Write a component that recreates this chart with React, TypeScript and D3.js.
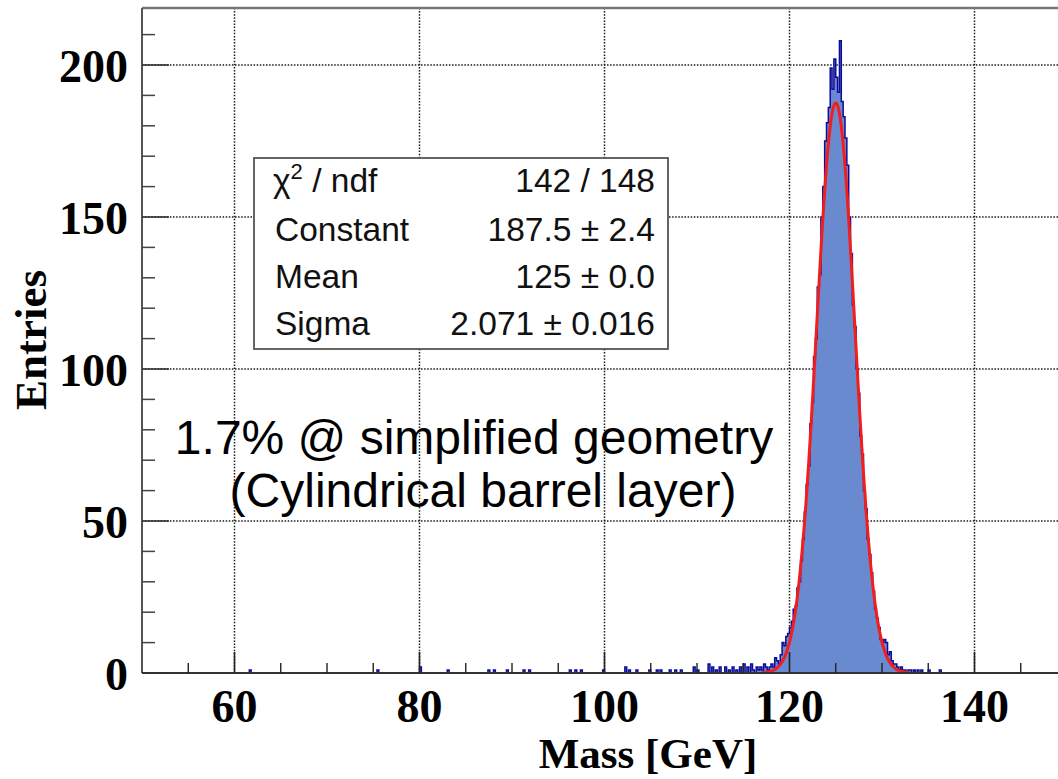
import React from "react";
import * as d3 from "d3";

// ---- data ----
const X_DOMAIN = [50, 150];
const Y_DOMAIN = [0, 218.75];
const BIN_WIDTH = 0.2;
const X_MAJOR_TICKS = [60, 80, 100, 120, 140];
const Y_MAJOR_TICKS = [0, 50, 100, 150, 200];

// sparse low/high tail bins: [bin centre (GeV), entries]
const TAIL_BINS: [number, number][] = [
  [61.7, 1], [75.5, 1], [80.1, 2], [83.1, 1], [87.5, 1], [88.1, 1], [89.5, 1],
  [91.3, 1], [91.9, 1], [96.3, 1], [96.9, 1], [97.5, 1], [99.9, 1], [102.3, 2],
  [102.7, 1], [103.5, 1], [104.9, 1], [105.7, 1], [106.1, 1], [107.1, 1],
  [107.7, 1], [108.3, 1], [109.7, 2], [110.1, 1], [111.3, 3], [111.7, 2],
  [112.1, 1], [112.5, 2], [113.1, 2], [113.5, 1], [113.9, 2], [114.3, 1],
  [114.7, 2], [115.1, 3], [115.5, 2], [115.9, 3], [134.3, 1], [135.1, 1], [136.3, 1],
];

// peak region: bins of 0.2 GeV starting at 116.0 GeV
const PEAK_START = 116.0;
const PEAK_COUNTS = [
  1, 0, 2, 1, 2, 1, 3, 2, 1, 2,
  3, 2, 5, 4, 3, 6, 10, 9, 12, 13,
  15, 17, 21, 22, 28, 30, 37, 44, 53, 62,
  68, 82, 89, 104, 110, 127, 131, 150, 160, 175,
  181, 186, 199, 192, 202, 196, 191, 208, 188, 183,
  176, 167, 150, 138, 121, 114, 100, 92, 78, 72,
  60, 54, 44, 39, 33, 27, 21, 18, 15, 11,
  10, 11, 10, 6, 7, 4, 3, 3, 2, 1,
  2, 1, 1, 0, 1, 1, 0, 1, 0, 1,
];

// Gaussian fit results (stat box)
const FIT_CONSTANT = 187.5;
const FIT_MEAN = 125.0;
const FIT_SIGMA = 2.071;
const FIT_RANGE = [117, 133];

const STAT_LABELS = ["χ2 / ndf", "Constant", "Mean", "Sigma"];
const STAT_VALUES = ["142 / 148", "187.5 ± 2.4", "125 ± 0.0", "2.071 ± 0.016"];

const ANNOTATION = ["1.7% @ simplified geometry", "(Cylindrical barrel layer)"];
const X_TITLE = "Mass [GeV]";
const Y_TITLE = "Entries";

const W = 1058;
const H = 779;
const SERIF = "'Liberation Serif', 'Times New Roman', serif";
const SANS = "'Liberation Sans', Arial, Helvetica, sans-serif";

export default function App() {
  const x = d3.scaleLinear().domain(X_DOMAIN).range([142, 1067]);
  const y = d3.scaleLinear().domain(Y_DOMAIN).range([673, 8]);

  const nBins = Math.round((X_DOMAIN[1] - X_DOMAIN[0]) / BIN_WIDTH);
  const counts = new Array(nBins).fill(0);
  TAIL_BINS.forEach(([c, n]) => {
    const i = Math.round((c - X_DOMAIN[0] - BIN_WIDTH / 2) / BIN_WIDTH);
    counts[i] = n;
  });
  const p0 = Math.round((PEAK_START - X_DOMAIN[0]) / BIN_WIDTH);
  PEAK_COUNTS.forEach((n, k) => (counts[p0 + k] = n));

  const pts = d3.range(nBins + 1).map((i) => ({
    e: X_DOMAIN[0] + i * BIN_WIDTH,
    v: counts[Math.min(i, nBins - 1)],
  }));
  const area = d3
    .area<{ e: number; v: number }>()
    .curve(d3.curveStepAfter)
    .x((d) => x(d.e))
    .y0(y(0))
    .y1((d) => y(d.v));
  const outline = d3
    .line<{ e: number; v: number }>()
    .curve(d3.curveStepAfter)
    .x((d) => x(d.e))
    .y((d) => y(d.v));

  const fitX = d3.range(FIT_RANGE[0], FIT_RANGE[1] + 0.001, 0.05);
  const fitLine = d3
    .line<number>()
    .x((m) => x(m))
    .y((m) => y(FIT_CONSTANT * Math.exp(-0.5 * ((m - FIT_MEAN) / FIT_SIGMA) ** 2)));

  const xMinor = d3.range(55, 150, 5).filter((v) => !X_MAJOR_TICKS.includes(v));
  const yMinor = d3.range(10, 219, 10).filter((v) => !Y_MAJOR_TICKS.includes(v));

  const gridStyle = { stroke: "#1a1a1a", strokeWidth: 1.5, strokeDasharray: "1.5,1.6" };
  const x0 = x(X_DOMAIN[0]);
  const x1 = x(X_DOMAIN[1]);
  const yBase = y(0);
  const yTop = y(Y_DOMAIN[1]);

  return (
    <svg
      width={W}
      height={H}
      style={{ position: "absolute", left: 0, top: 0, background: "#fff" }}
    >
      <rect x={0} y={0} width={W} height={H} fill="#fff" />
      {/* grid */}
      {X_MAJOR_TICKS.map((t) => (
        <line key={"gx" + t} x1={x(t)} x2={x(t)} y1={yTop} y2={yBase} {...gridStyle} />
      ))}
      {Y_MAJOR_TICKS.filter((t) => t > 0).map((t) => (
        <line key={"gy" + t} x1={x0} x2={x1} y1={y(t)} y2={y(t)} {...gridStyle} />
      ))}

      {/* histogram */}
      <path d={area(pts) || ""} fill="#6a8ad0" stroke="none" />
      <path d={outline(pts) || ""} fill="none" stroke="#0c0c96" strokeWidth={1.5} />

      {/* fit */}
      <path d={fitLine(fitX) || ""} fill="none" stroke="#f21d1d" strokeWidth={3} />

      {/* frame & axes */}
      <line x1={x0} x2={x1} y1={yTop} y2={yTop} stroke="#777" strokeWidth={2.5} />
      <line x1={x0} x2={x0} y1={yTop} y2={yBase} stroke="#555" strokeWidth={2} />
      <line x1={x0} x2={x1} y1={yBase} y2={yBase} stroke="#333" strokeWidth={2} />

      {X_MAJOR_TICKS.map((t) => (
        <line key={"xt" + t} x1={x(t)} x2={x(t)} y1={yBase} y2={yBase - 21} stroke="#222" strokeWidth={1.6} />
      ))}
      {xMinor.map((t) => (
        <line key={"xm" + t} x1={x(t)} x2={x(t)} y1={yBase} y2={yBase - 10} stroke="#222" strokeWidth={1.4} />
      ))}
      {Y_MAJOR_TICKS.map((t) => (
        <line key={"yt" + t} x1={x0} x2={x0 + 27} y1={y(t)} y2={y(t)} stroke="#333" strokeWidth={1.6} />
      ))}
      {yMinor.map((t) => (
        <line key={"ym" + t} x1={x0} x2={x0 + 13} y1={y(t)} y2={y(t)} stroke="#444" strokeWidth={1.5} />
      ))}

      {/* tick labels */}
      {X_MAJOR_TICKS.map((t) => (
        <text key={"xl" + t} x={x(t)} y={yBase + 49} textAnchor="middle"
          fontFamily={SERIF} fontWeight="bold" fontSize={46} fill="#000">
          {t}
        </text>
      ))}
      {Y_MAJOR_TICKS.map((t) => (
        <text key={"yl" + t} x={128} y={y(t) + 17} textAnchor="end"
          fontFamily={SERIF} fontWeight="bold" fontSize={46} fill="#000">
          {t}
        </text>
      ))}

      {/* axis titles */}
      <text x={648} y={768} textAnchor="middle" fontFamily={SERIF} fontWeight="bold" fontSize={43} fill="#000">
        {X_TITLE}
      </text>
      <text transform="translate(46,340) rotate(-90)" textAnchor="middle"
        fontFamily={SERIF} fontWeight="bold" fontSize={45} fill="#000">
        {Y_TITLE}
      </text>

      {/* stat box */}
      <rect x={254} y={158} width={414} height={191} fill="#fff" stroke="#555" strokeWidth={1.8} />
      {STAT_LABELS.map((lab, i) => {
        const by = [192, 241, 288, 335][i];
        return (
          <g key={"st" + i} fontFamily={SANS} fontSize={33.5} fill="#111">
            {i === 0 ? (
              <text x={273} y={by}>
                <tspan>χ</tspan>
                <tspan fontSize={22} dy={-13}>2</tspan>
                <tspan dy={13}>{" / ndf"}</tspan>
              </text>
            ) : (
              <text x={275} y={by}>{lab}</text>
            )}
            <text x={655} y={by} textAnchor="end">{STAT_VALUES[i]}</text>
          </g>
        );
      })}

      {/* annotation */}
      <text x={474} y={454} textAnchor="middle" fontFamily={SANS} fontSize={48} fill="#000">
        {ANNOTATION[0]}
      </text>
      <text x={483} y={507} textAnchor="middle" fontFamily={SANS} fontSize={48} fill="#000">
        {ANNOTATION[1]}
      </text>
    </svg>
  );
}
